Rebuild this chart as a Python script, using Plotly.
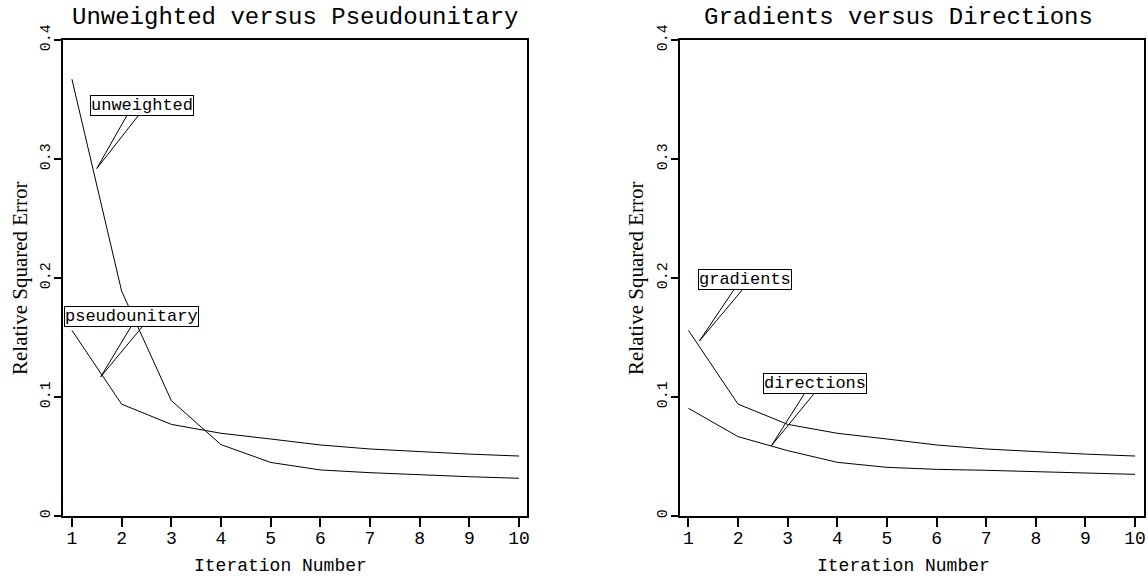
import plotly.graph_objects as go

iterations = [1, 2, 3, 4, 5, 6, 7, 8, 9, 10]
unweighted = [0.367, 0.189, 0.097, 0.060, 0.045, 0.0387, 0.0364, 0.0345, 0.0330, 0.0317]
pseudounitary = [0.156, 0.094, 0.077, 0.0695, 0.0647, 0.0597, 0.0563, 0.0540, 0.0520, 0.0504]
gradients = [0.156, 0.094, 0.077, 0.0695, 0.0647, 0.0597, 0.0563, 0.0540, 0.0520, 0.0504]
directions = [0.0905, 0.0667, 0.0549, 0.0451, 0.0409, 0.0392, 0.0384, 0.0372, 0.0360, 0.0350]

panel_titles = ["Unweighted versus Pseudounitary", "Gradients versus Directions"]
x_title = "Iteration Number"
y_title = "Relative Squared Error"
x_ticks = [1, 2, 3, 4, 5, 6, 7, 8, 9, 10]
y_ticks = [0, 0.1, 0.2, 0.3, 0.4]
y_ticklabels = ["0", "0.1", "0.2", "0.3", "0.4"]

# label: (text, axis, box centre x, box centre y, tip x, tip y, wedge x offsets)
labels = [
    ("unweighted", 1, 2.41, 0.345, 1.50, 0.292, (-0.28, -0.04)),
    ("pseudounitary", 1, 2.20, 0.168, 1.58, 0.117, (0.02, 0.26)),
    ("gradients", 2, 2.13, 0.199, 1.22, 0.147, (-0.18, 0.0)),
    ("directions", 2, 3.56, 0.111, 2.67, 0.059, (-0.20, 0.0)),
]

W, H = 1148, 580
left_px = (63, 527)
right_px = (680, 1144)
top_px, bottom_px = 40, 516

MONO = "Liberation Mono"
SERIF = "Liberation Serif"

fig = go.Figure()
series = [(unweighted, "x", "y"), (pseudounitary, "x", "y"),
          (gradients, "x2", "y2"), (directions, "x2", "y2")]
for vals, xa, ya in series:
    fig.add_trace(go.Scatter(x=iterations, y=vals, mode="lines", xaxis=xa, yaxis=ya,
                             line=dict(color="black", width=1), showlegend=False,
                             hoverinfo="skip"))

def xaxis(dom, rng, anchor):
    return dict(domain=[dom[0] / W, dom[1] / W], range=rng, tickvals=x_ticks,
                ticks="outside", ticklen=9, tickwidth=1.5, tickcolor="black",
                showline=True, linecolor="black", linewidth=1.5, mirror=True,
                showgrid=False, zeroline=False, automargin=False, anchor=anchor,
                ticklabelstandoff=-4,
                tickfont=dict(family=MONO, size=18, color="black"))

def yaxis(anchor):
    return dict(domain=[1 - bottom_px / H, 1 - top_px / H], range=[0, 0.4],
                tickvals=y_ticks, ticktext=y_ticklabels, tickangle=-90,
                ticks="outside", ticklen=7, tickwidth=1.5, tickcolor="black",
                showline=True, linecolor="black", linewidth=1.5, mirror=True,
                showgrid=False, zeroline=False, anchor=anchor, automargin=False,
                ticklabelstandoff=-2,
                tickfont=dict(family=MONO, size=15, color="black"))

fig.update_layout(
    template="none",
    width=W, height=H, margin=dict(l=0, r=0, t=0, b=0, autoexpand=False),
    paper_bgcolor="white", plot_bgcolor="white",
    xaxis=xaxis(left_px, [0.82, 10.16], "y"),
    yaxis=yaxis("x"),
    xaxis2=xaxis(right_px, [0.83, 10.18], "y2"),
    yaxis2=yaxis("x2"),
)

# panel titles and axis titles (placed in pixels of the page)
title_cx = [295, 898]
xtitle_cx = [280, 903]
ytitle_x = [20, 636]
for i in range(2):
    fig.add_annotation(text=panel_titles[i], xref="paper", yref="paper",
                       x=title_cx[i] / W, y=1 - 17 / H,
                       xanchor="center", yanchor="middle", showarrow=False,
                       font=dict(family=MONO, size=24, color="black"))
    fig.add_annotation(text=x_title, xref="paper", yref="paper",
                       x=xtitle_cx[i] / W, y=1 - 566 / H,
                       xanchor="center", yanchor="middle", showarrow=False,
                       font=dict(family=MONO, size=18, color="black"))
    fig.add_annotation(text=y_title, xref="paper", yref="paper",
                       x=ytitle_x[i] / W, y=1 - 278 / H, textangle=-90,
                       xanchor="center", yanchor="middle", showarrow=False,
                       font=dict(family=SERIF, size=21, color="black"))

box_half = 8 / (bottom_px - top_px) * 0.4
for text, ax, bx, by, tx, ty, offs in labels:
    xr = "x" if ax == 1 else "x2"
    yr = "y" if ax == 1 else "y2"
    by0 = by - box_half
    fig.add_shape(type="path", xref=xr, yref=yr,
                  path=f"M {bx + offs[0]} {by0} L {tx} {ty} L {bx + offs[1]} {by0}",
                  line=dict(color="black", width=1))
    fig.add_annotation(text=text, xref=xr, yref=yr, x=bx, y=by, showarrow=False,
                       xanchor="center", yanchor="middle",
                       font=dict(family=MONO, size=17, color="black"),
                       bgcolor="white", bordercolor="black", borderwidth=1, borderpad=0)

fig.write_html("out.html")
